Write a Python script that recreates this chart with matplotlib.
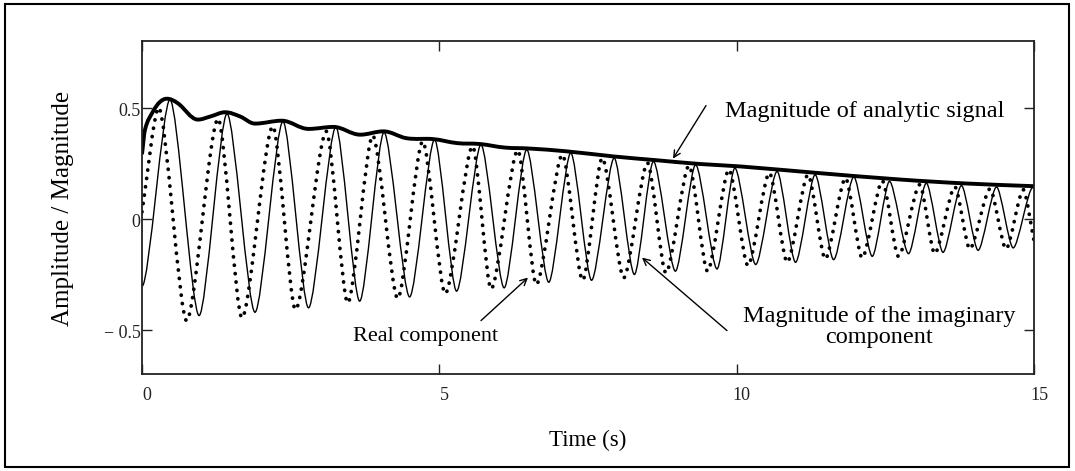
import matplotlib
matplotlib.use('Agg')
import matplotlib.pyplot as plt
from matplotlib.patches import Rectangle, PathPatch
from matplotlib.path import Path
import matplotlib.transforms as mtransforms

# ---- data (extrema / sample points) ----
real_t = [0, 0.47, 0.96, 1.43, 1.90, 2.37, 2.80, 3.26, 3.66, 4.07, 4.50, 4.92, 5.29,
          5.70, 6.09, 6.47, 6.84, 7.21, 7.56, 7.94, 8.28, 8.60, 8.97, 9.31, 9.67, 9.97,
          10.32, 10.68, 10.99, 11.32, 11.63, 11.97, 12.28, 12.57, 12.89, 13.19, 13.47,
          13.78, 14.06, 14.37, 14.65, 14.98]
real_v = [-0.305, 0.536, -0.437, 0.473, -0.422, 0.438, -0.402, 0.413, -0.372, 0.389,
          -0.353, 0.356, -0.327, 0.333, -0.312, 0.311, -0.287, 0.296, -0.278, 0.273, -0.252,
          0.258, -0.237, 0.243, -0.227, 0.228, -0.207, 0.213, -0.197, 0.198, -0.185, 0.188,
          -0.17, 0.168, -0.158, 0.16, -0.152, 0.149, -0.143, 0.143, -0.132, 0.14]

imag_t = [0, 0.28, 0.75, 1.28, 1.68, 2.20, 2.58, 3.10, 3.46, 3.88, 4.30, 4.72, 5.10, 5.56,
          5.87, 6.32, 6.63, 7.07, 7.41, 7.74, 8.10, 8.50, 8.81, 9.20, 9.51, 9.87, 10.19,
          10.55, 10.85, 11.20, 11.49, 11.83, 12.11, 12.45, 12.72, 13.08, 13.33, 13.67,
          13.92, 14.26, 14.53, 14.82, 15.0]
imag_v = [0.03, 0.50, -0.46, 0.45, -0.447, 0.416, -0.41, 0.393, -0.38, 0.374, -0.36, 0.348,
          -0.338, 0.326, -0.317, 0.308, -0.297, 0.288, -0.278, 0.273, -0.267, 0.251, -0.245,
          0.239, -0.237, 0.221, -0.212, 0.206, -0.197, 0.198, -0.182, 0.183, -0.177, 0.17,
          -0.17, 0.153, -0.158, 0.143, -0.137, 0.134, -0.137, 0.13, -0.10]

mag_t = [0, 0.05, 0.18, 0.30, 0.42, 0.60, 0.94, 1.15, 1.40, 1.65, 1.90, 2.35, 2.80, 3.22,
         3.67, 4.06, 4.45, 4.90, 5.30, 5.68, 6.10, 6.49, 7.14, 7.93, 8.65, 9.38, 10.06,
         11.34, 12.75, 13.87, 15.0]
mag_v = [0.29, 0.40, 0.48, 0.525, 0.54, 0.52, 0.446, 0.46, 0.479, 0.46, 0.428, 0.441, 0.404,
         0.413, 0.378, 0.393, 0.362, 0.358, 0.34, 0.336, 0.32, 0.316, 0.303, 0.28, 0.263,
         0.246, 0.235, 0.206, 0.176, 0.158, 0.146]

x_ticks = [0, 5, 10, 15]
x_tick_labels = ['0', '5', '10', '15']
y_ticks = [-0.5, 0, 0.5]
y_tick_labels = ['\u2212 0.5', '0', '0.5']


def smooth_path(ts, vs, start_flat=False, end_flat=False, k=0.36):
    """Cubic Bezier path through the read points (flat tangents at extrema)."""
    n = len(ts)
    m = []
    for i in range(n):
        if i == 0:
            m.append(0.0 if start_flat else (vs[1] - vs[0]) / (ts[1] - ts[0]))
        elif i == n - 1:
            m.append(0.0 if end_flat else (vs[-1] - vs[-2]) / (ts[-1] - ts[-2]))
        else:
            a = vs[i] - vs[i - 1]
            b = vs[i + 1] - vs[i]
            if a * b <= 0:
                m.append(0.0)
            else:
                m.append((vs[i + 1] - vs[i - 1]) / (ts[i + 1] - ts[i - 1]))
    verts = [(ts[0], vs[0])]
    codes = [Path.MOVETO]
    for i in range(n - 1):
        dt = ts[i + 1] - ts[i]
        verts += [(ts[i] + k * dt, vs[i] + m[i] * k * dt),
                  (ts[i + 1] - k * dt, vs[i + 1] - m[i + 1] * k * dt),
                  (ts[i + 1], vs[i + 1])]
        codes += [Path.CURVE4] * 3
    return Path(verts, codes)


# ---- figure ----
W, H = 1075, 471
fig = plt.figure(figsize=(W / 100, H / 100), dpi=100)
plt.rcParams['font.family'] = ['Liberation Serif', 'DejaVu Serif']


def fx(px):
    return px / W


def fy(py):
    return 1 - py / H


ax = fig.add_axes([fx(142), fy(374), fx(1034) - fx(142), fy(41) - fy(374)])
ax.set_xlim(0, 15)
ax.set_ylim(-0.7, 0.8)

p_real = PathPatch(smooth_path(real_t, real_v, start_flat=True, end_flat=True, k=0.26),
                   fill=False, edgecolor='black', lw=1.0, joinstyle='round')
ax.add_patch(p_real)

p_imag = PathPatch(smooth_path(imag_t, imag_v, k=0.26), fill=False, edgecolor='black',
                   lw=2.7, linestyle=(0, (0.05, 2.2)), capstyle='round')
ax.add_patch(p_imag)

p_mag = PathPatch(smooth_path(mag_t, mag_v), fill=False, edgecolor='black', lw=2.8,
                  joinstyle='round', capstyle='butt')
ax.add_patch(p_mag)

for s in ax.spines.values():
    s.set_linewidth(1.3)
    s.set_color('#222222')

ax.set_xticks(x_ticks)
ax.set_xticklabels(x_tick_labels)
ax.set_yticks(y_ticks)
ax.set_yticklabels(y_tick_labels)
ax.tick_params(axis='both', direction='in', length=7, width=1.0, labelsize=13,
               top=True, right=True, colors='#222222')
ax.tick_params(axis='x', pad=9)
ax.tick_params(axis='y', pad=1)

offx = mtransforms.ScaledTranslation(5 / 100, 0, fig.dpi_scale_trans)
for lab in ax.get_xticklabels():
    lab.set_transform(lab.get_transform() + offx)
offy = mtransforms.ScaledTranslation(0, -2 / 100, fig.dpi_scale_trans)
for lab in ax.get_yticklabels():
    lab.set_transform(lab.get_transform() + offy)

fig.text(fx(63), fy(208), 'Amplitude / Magnitude', rotation=90, ha='center', va='center',
         fontsize=18)
fig.text(fx(588), fy(440), 'Time (s)', ha='center', va='center', fontsize=16.5)


def data_xy(px, py):
    return ((px - 142) / (1034 - 142) * 15, (219 - py) / 222)


tx, ty = data_xy(865, 112)
ax.text(tx, ty, 'Magnitude of analytic signal', ha='center', va='center', fontsize=17.5)

arrow_kw = dict(arrowstyle='->', color='black', lw=1.0, shrinkA=0, shrinkB=0,
                mutation_scale=12)

ax.annotate('', xy=data_xy(673, 159), xytext=data_xy(706, 106), arrowprops=arrow_kw,
            annotation_clip=False)
ax.annotate('', xy=data_xy(528, 278), xytext=data_xy(481, 321), arrowprops=arrow_kw,
            annotation_clip=False)
ax.annotate('', xy=data_xy(642, 258), xytext=data_xy(727, 331), arrowprops=arrow_kw,
            annotation_clip=False)

rx, ry = data_xy(426, 337)
ax.text(rx, ry, 'Real component', ha='center', va='center', fontsize=16)
mx, my = data_xy(879, 327)
ax.text(mx, my, 'Magnitude of the imaginary\ncomponent', ha='center', va='center',
        fontsize=17.5, linespacing=1.0)

fig.patches.append(Rectangle((fx(5), fy(467)), fx(1069) - fx(5), fy(4) - fy(467),
                             transform=fig.transFigure, fill=False, edgecolor='black',
                             lw=1.5))

fig.savefig('out.png', dpi=100)
